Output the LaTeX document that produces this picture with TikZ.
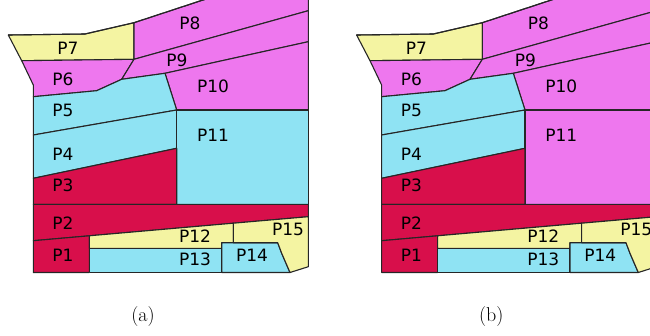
\documentclass[tikz,border=0pt]{standalone}
\usepackage{fontspec}
\setsansfont{DejaVu Sans}
\definecolor{partpink}{HTML}{EE77EE}
\definecolor{partcyan}{HTML}{8FE3F3}
\definecolor{partred}{HTML}{D80F4B}
\definecolor{partyellow}{HTML}{F4F4A2}
\tikzset{
  part/.style={draw=black!85,line width=1.1pt,line join=round},
  plabel/.style={font=\sffamily\fontsize{17}{20}\selectfont,inner sep=0pt},
  caplabel/.style={font=\fontsize{20}{24}\selectfont,inner sep=0pt}
}
% one panel of parts; #1 = fill of P11, #2 = letter of the panel
\newcommand{\drawparts}[2]{
  \fill [part,fill=partyellow] (8.3,35)-- (85,34)-- (134,22.7)-- (134,59.3)-- (21.7,60.7)-- cycle;
  \fill [part,fill=partpink] (134,22.7)-- (233.4,-10)-- (308.3,-10)-- (308.3,10.7)-- (134,59.3)-- cycle;
  \fill [part,fill=partpink] (21.7,60.7)-- (134,59.3)-- (121.7,79.3)-- (96.7,90.7)-- (33.3,96.7)-- (33.3,85)-- cycle;
  \fill [part,fill=partpink] (134,59.3)-- (308.3,10.7)-- (308.3,41.7)-- (165,73.3)-- (121.7,79.3)-- cycle;
  \fill [part,fill=partpink] (165,73.3)-- (308.3,41.7)-- (308.3,110)-- (176.7,110)-- cycle;
  \fill [part,fill=partcyan] (33.3,96.7)-- (96.7,90.7)-- (121.7,79.3)-- (165,73.3)-- (176.7,110)-- (33.3,135)-- cycle;
  \fill [part,fill=partcyan] (33.3,135)-- (176.7,110)-- (176.7,148.3)-- (33.3,178.3)-- cycle;
  \fill [part,fill=#1] (176.7,110)-- (308.3,110)-- (308.3,204.3)-- (176.7,204.3)-- cycle;
  \fill [part,fill=partred] (33.3,178.3)-- (176.7,148.3)-- (176.7,204.3)-- (33.3,204.3)-- cycle;
  \fill [part,fill=partred] (33.3,204.3)-- (308.3,204.3)-- (308.3,216.7)-- (33.3,240.7)-- cycle;
  \fill [part,fill=partred] (33.3,240.7)-- (89.3,235.8)-- (89.3,272.5)-- (33.3,272.5)-- cycle;
  \fill [part,fill=partyellow] (89.3,235.8)-- (233.3,223.2)-- (233.3,242.7)-- (221.7,242.7)-- (221.7,248.3)-- (89.3,248.3)-- cycle;
  \fill [part,fill=partcyan] (89.3,248.3)-- (221.7,248.3)-- (221.7,272.5)-- (89.3,272.5)-- cycle;
  \fill [part,fill=partcyan] (221.7,242.7)-- (277.7,242.7)-- (281.7,253.3)-- (290,272.5)-- (221.7,272.5)-- cycle;
  \fill [part,fill=partyellow] (233.3,223.2)-- (308.3,216.7)-- (308.3,266.7)-- (290,272.5)-- (281.7,253.3)-- (277.7,242.7)-- (233.3,242.7)-- cycle;
  \draw [part] (8.3,35)-- (85,34)-- (134,22.7)-- (233.4,-10);
  \node[plabel] (#2p1) at (63,255) {P1};
  \node[plabel] (#2p2) at (63,223) {P2};
  \node[plabel] (#2p3) at (63,185) {P3};
  \node[plabel] (#2p4) at (63,154) {P4};
  \node[plabel] (#2p5) at (63,110) {P5};
  \node[plabel] (#2p6) at (63,79) {P6};
  \node[plabel] (#2p7) at (68,48) {P7};
  \node[plabel] (#2p8) at (190,23) {P8};
  \node[plabel] (#2p9) at (177,60) {P9};
  \node[plabel] (#2p10) at (213,86) {P10};
  \node[plabel] (#2p11) at (213,135) {P11};
  \node[plabel] (#2p12) at (195,236) {P12};
  \node[plabel] (#2p13) at (195,259) {P13};
  \node[plabel] (#2p14) at (252,255) {P14};
  \node[plabel] (#2p15) at (288,229) {P15};
  \node[caplabel] (#2cap) at (143,317) {(#2)};
}

\begin{document}
\begin{tikzpicture}[line cap=round,line join=round,x=1pt,y=-1pt]
	\useasboundingbox (0,0) rectangle (650,335);
	\clip (0,0) rectangle (650,335);
	\drawparts{partcyan}{a}
	\begin{scope}[shift={(348.3,0)}]
		\drawparts{partpink}{b}
	\end{scope}
\end{tikzpicture}
\end{document}
